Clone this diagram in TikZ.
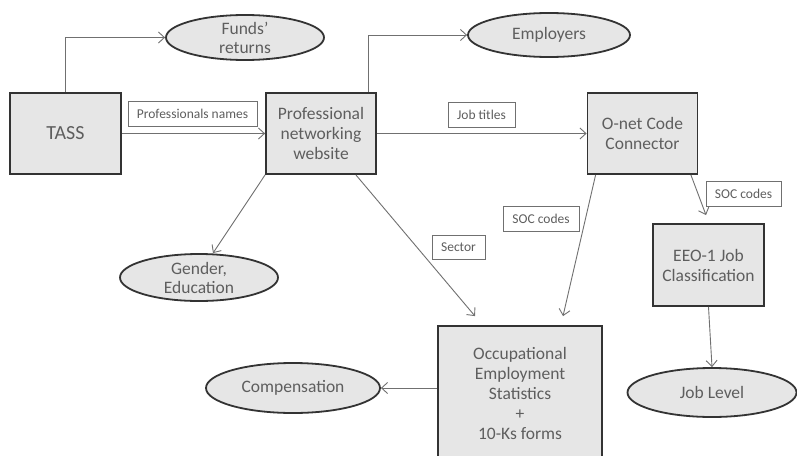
\documentclass[tikz,border=0pt]{standalone}
\usepackage{fontspec}
\setmainfont{Carlito}
\usetikzlibrary{shapes.geometric,arrows.meta,calc}
\definecolor{txt}{HTML}{5E5E5E}
\definecolor{boxfill}{HTML}{E6E6E6}
\definecolor{edge}{HTML}{333333}
\definecolor{arrc}{HTML}{707070}
\tikzset{
  bigbox/.style={draw=edge,line width=1.8pt,fill=boxfill,text=txt,align=center,
    inner sep=0pt,font=\fontsize{17.5}{20}\selectfont},
  oval/.style={ellipse,draw=edge,line width=1.8pt,fill=boxfill,text=txt,align=center,
    inner sep=0pt,font=\fontsize{17.5}{19}\selectfont},
  lbl/.style={draw=arrc,line width=0.8pt,fill=white,text=txt,inner sep=0pt,
    font=\fontsize{13.5}{15}\selectfont},
  arr/.style={draw=arrc,line width=0.9pt,-{Straight Barb[length=6pt,width=11pt]}}
}
\begin{document}
\begin{tikzpicture}[x=1pt,y=-1pt]
\clip (0,0) rectangle (797,455);
\fill[white] (0,0) rectangle (797,455);
% boxes
\node[bigbox,minimum width=111pt,minimum height=81pt,font=\fontsize{20}{22}\selectfont] (tass) at (65.5,133.5) {TASS};
\node[bigbox,minimum width=110pt,minimum height=81pt] (pnw) at (321,133.5) {Professional\\networking\\website};
\node[bigbox,minimum width=110pt,minimum height=81pt] (onet) at (642.5,133.5) {O-net Code\\Connector};
\node[bigbox,minimum width=111pt,minimum height=82pt] (eeo) at (708.5,265) {EEO-1 Job\\Classification};
\node[bigbox,minimum width=164pt,minimum height=134pt] (oes) at (520,393) {Occupational\\Employment\\Statistics\\+\\10-Ks forms};
% ellipses
\node[oval,minimum width=158pt,minimum height=45pt] (funds) at (245,37.5) {Funds'\\returns};
\node[oval,minimum width=162pt,minimum height=44pt] (employers) at (549,35) {Employers};
\node[oval,minimum width=158pt,minimum height=47pt] (gender) at (199,277.5) {Gender,\\Education};
\node[oval,minimum width=174pt,minimum height=50pt] (comp) at (293,388) {Compensation};
\node[oval,minimum width=169pt,minimum height=49pt] (joblevel) at (712,392.5) {Job Level};
% labels
\node[lbl,minimum width=129pt,minimum height=25pt] (l1) at (192.5,113.5) {Professionals names};
\node[lbl,minimum width=67pt,minimum height=25pt] (l2) at (481.5,114.5) {Job titles};
\node[lbl,minimum width=75pt,minimum height=25pt] (l3) at (743.5,193.5) {SOC codes};
\node[lbl,minimum width=76pt,minimum height=25pt] (l4) at (541,218.5) {SOC codes};
\node[lbl,minimum width=53pt,minimum height=24pt] (l5) at (458.5,247) {Sector};
% connectors
\draw[arr] (tass.north) |- (funds.west);
\draw[arr] (tass.east) -- (pnw.west);
\draw[arr] ($(pnw.north east)+(-8,0)$) |- (employers.west);
\draw[arr] (pnw.east) -- (onet.west);
\draw[arr] ($(onet.south east)+(-7.5,0)$) -- ($(eeo.north)+(-2.5,-8)$);
\draw[arr] ($(onet.south west)+(9,0)$) -- ($(oes.north)+(43,-9)$);
\draw[arr] ($(pnw.south east)+(-21,0)$) -- ($(oes.north)+(-45,-9)$);
\draw[arr] (pnw.south west) -- ($(gender.north)+(14,0)$);
\draw[arr] (comp.east -| oes.west) -- (comp.east);
\draw[arr] (eeo.south) -- (joblevel.north);
\end{tikzpicture}
\end{document}
